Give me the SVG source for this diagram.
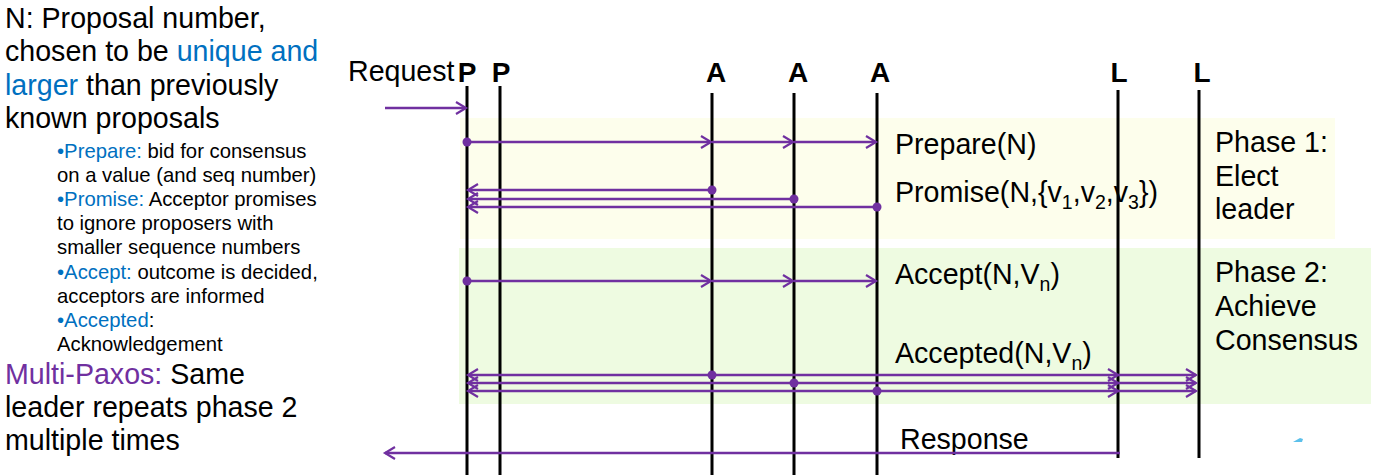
<svg xmlns="http://www.w3.org/2000/svg" width="1377" height="475" viewBox="0 0 1377 475">
<style>
text{font-family:"Liberation Sans",Arial,sans-serif;fill:#000}
.big{font-size:28.6px}
.sm{font-size:20.3px}
.lbl{font-size:28px;font-weight:bold;text-anchor:middle}
.blue{fill:#0070c0}
.purple{fill:#7030a0}
.life{stroke:#000;stroke-width:3}
.msg{stroke:#7030a0;stroke-width:2.5;fill:none;marker-end:url(#ah)}
.dot{fill:#7030a0}
.sub{font-size:19.5px}
</style>
<defs>
<marker id="ah" markerUnits="userSpaceOnUse" markerWidth="14" markerHeight="16" refX="11" refY="7" orient="auto">
<path d="M1,1 L11,7 L1,13" fill="none" stroke="#7030a0" stroke-width="2.2"/>
</marker>
</defs>
<rect width="1377" height="475" fill="#fff"/>
<g id="phase1-bg"><rect x="460" y="118" width="875" height="121" fill="#fdfeec"/></g>
<g id="phase2-bg"><rect x="459" y="248" width="912" height="156" fill="#eefbe1"/></g>
<g id="notes">
<text class="big" x="5" y="28">N: Proposal number,</text>
<text class="big" x="5" y="61">chosen to be <tspan class="blue">unique and</tspan></text>
<text class="big" x="5" y="95"><tspan class="blue">larger</tspan> than previously</text>
<text class="big" x="5" y="128">known proposals</text>
<text class="sm" x="57" y="158"><tspan class="blue">•Prepare:</tspan> bid for consensus</text>
<text class="sm" x="57" y="182">on a value (and seq number)</text>
<text class="sm" x="57" y="206"><tspan class="blue">•Promise:</tspan> Acceptor promises</text>
<text class="sm" x="57" y="230">to ignore proposers with</text>
<text class="sm" x="57" y="254">smaller sequence numbers</text>
<text class="sm" x="57" y="279"><tspan class="blue">•Accept:</tspan> outcome is decided,</text>
<text class="sm" x="57" y="303">acceptors are informed</text>
<text class="sm" x="57" y="327"><tspan class="blue">•Accepted</tspan>:</text>
<text class="sm" x="57" y="351">Acknowledgement</text>
<text class="big" x="5" y="384"><tspan class="purple">Multi-Paxos:</tspan> Same</text>
<text class="big" x="5" y="417">leader repeats phase 2</text>
<text class="big" x="5" y="450">multiple times</text>
</g>
<g id="phase-labels">
<text class="big" x="1215" y="152">Phase 1:</text>
<text class="big" x="1215" y="186">Elect</text>
<text class="big" x="1215" y="219">leader</text>
<text class="big" x="1215" y="282">Phase 2:</text>
<text class="big" x="1215" y="316">Achieve</text>
<text class="big" x="1215" y="350">Consensus</text>
</g>
<g id="message-labels">
<text class="big" x="348" y="81">Request</text>
<text class="big" x="895" y="154">Prepare(N)</text>
<text class="big" x="895" y="202">Promise(N,{v<tspan class="sub" dy="7">1</tspan><tspan dy="-7">,v</tspan><tspan class="sub" dy="7">2</tspan><tspan dy="-7">,v</tspan><tspan class="sub" dy="7">3</tspan><tspan dy="-7">})</tspan></text>
<text class="big" x="895" y="284">Accept(N,V<tspan class="sub" dy="7">n</tspan><tspan dy="-7">)</tspan></text>
<text class="big" x="895" y="363">Accepted(N,V<tspan class="sub" dy="7">n</tspan><tspan dy="-7">)</tspan></text>
<text class="big" x="900" y="449">Response</text>
</g>
<g id="proposer1"><text class="lbl" x="467" y="82">P</text><line class="life" x1="467" y1="86" x2="467" y2="475"/></g>
<g id="proposer2"><text class="lbl" x="501" y="82">P</text><line class="life" x1="500" y1="86" x2="500" y2="475"/></g>
<g id="acceptor1"><text class="lbl" x="716" y="82">A</text><line class="life" x1="712" y1="93" x2="712" y2="475"/></g>
<g id="acceptor2"><text class="lbl" x="798" y="82">A</text><line class="life" x1="794" y1="93" x2="794" y2="475"/></g>
<g id="acceptor3"><text class="lbl" x="880" y="82">A</text><line class="life" x1="877" y1="93" x2="877" y2="475"/></g>
<g id="learner1"><text class="lbl" x="1119" y="82">L</text><line class="life" x1="1118" y1="90" x2="1118" y2="458"/></g>
<g id="learner2"><text class="lbl" x="1202" y="82">L</text><line class="life" x1="1199" y1="90" x2="1199" y2="458"/></g>
<g id="connectors">
<line class="msg" x1="385" y1="108" x2="466" y2="108"/>
<line class="msg" x1="467" y1="142" x2="711" y2="142"/>
<line class="msg" x1="712" y1="142" x2="793" y2="142"/>
<line class="msg" x1="794" y1="142" x2="876" y2="142"/>
<circle class="dot" cx="467" cy="142" r="4.5"/>
<line class="msg" x1="712" y1="190" x2="468" y2="190"/>
<line class="msg" x1="794" y1="199" x2="468" y2="199"/>
<line class="msg" x1="877" y1="207" x2="468" y2="207"/>
<circle class="dot" cx="712" cy="190" r="4.5"/>
<circle class="dot" cx="794" cy="199" r="4.5"/>
<circle class="dot" cx="877" cy="207" r="4.5"/>
<line class="msg" x1="467" y1="281" x2="711" y2="281"/>
<line class="msg" x1="712" y1="281" x2="793" y2="281"/>
<line class="msg" x1="794" y1="281" x2="876" y2="281"/>
<circle class="dot" cx="467" cy="281" r="4.5"/>
<line class="msg" x1="712" y1="375" x2="468" y2="375"/>
<line class="msg" x1="794" y1="383" x2="468" y2="383"/>
<line class="msg" x1="877" y1="391" x2="468" y2="391"/>
<line class="msg" x1="712" y1="375" x2="1118" y2="375"/>
<line class="msg" x1="794" y1="383" x2="1118" y2="383"/>
<line class="msg" x1="877" y1="391" x2="1118" y2="391"/>
<line class="msg" x1="1118" y1="375" x2="1196" y2="375"/>
<line class="msg" x1="1118" y1="383" x2="1196" y2="383"/>
<line class="msg" x1="1118" y1="391" x2="1196" y2="391"/>
<circle class="dot" cx="712" cy="375" r="4.5"/>
<circle class="dot" cx="794" cy="383" r="4.5"/>
<circle class="dot" cx="877" cy="391" r="4.5"/>
<line class="msg" x1="1120" y1="453" x2="385" y2="453" stroke-width="3"/>
</g>
<path d="M1293,442 L1300,438 L1303,439 L1302,442 Z" fill="#5bc0eb"/>
</svg>
